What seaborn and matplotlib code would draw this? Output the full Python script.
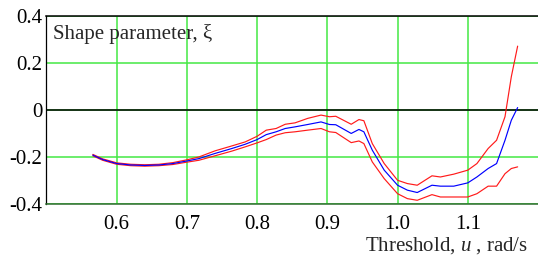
import pandas as pd
import matplotlib
matplotlib.use('Agg')
import matplotlib.pyplot as plt
import seaborn as sns

threshold = [0.566, 0.58, 0.60, 0.62, 0.64, 0.66, 0.68, 0.70, 0.717, 0.740,
             0.764, 0.783, 0.800, 0.813, 0.827, 0.840, 0.854, 0.872, 0.891, 0.903,
             0.912, 0.934, 0.945, 0.952, 0.964, 0.981, 1.000, 1.014, 1.028, 1.049,
             1.061, 1.080, 1.100, 1.113, 1.129, 1.141, 1.153, 1.162, 1.171]
xi = [-0.191, -0.210, -0.227, -0.233, -0.235, -0.233, -0.227, -0.216, -0.206, -0.184,
      -0.163, -0.145, -0.125, -0.104, -0.092, -0.078, -0.071, -0.061, -0.050, -0.061,
      -0.062, -0.099, -0.082, -0.092, -0.170, -0.255, -0.319, -0.340, -0.350, -0.319,
      -0.323, -0.323, -0.309, -0.284, -0.248, -0.227, -0.128, -0.043, 0.011]
xi_upper = [-0.188, -0.207, -0.224, -0.230, -0.232, -0.230, -0.223, -0.211, -0.199, -0.173,
            -0.152, -0.135, -0.111, -0.085, -0.078, -0.060, -0.054, -0.035, -0.021, -0.028,
            -0.026, -0.060, -0.040, -0.045, -0.142, -0.227, -0.298, -0.312, -0.319, -0.279,
            -0.284, -0.272, -0.255, -0.227, -0.163, -0.128, -0.028, 0.142, 0.272]
xi_lower = [-0.194, -0.213, -0.230, -0.236, -0.238, -0.236, -0.231, -0.221, -0.213, -0.194,
            -0.174, -0.156, -0.139, -0.125, -0.106, -0.096, -0.092, -0.085, -0.078, -0.092,
            -0.095, -0.138, -0.131, -0.142, -0.220, -0.291, -0.355, -0.376, -0.383, -0.359,
            -0.369, -0.369, -0.369, -0.355, -0.323, -0.323, -0.270, -0.248, -0.241]

x_ticks = [0.6, 0.7, 0.8, 0.9, 1.0, 1.1]
x_ticklabels = ['0.6', '0.7', '0.8', '0.9', '1.0', '1.1']
y_ticks = [-0.4, -0.2, 0.0, 0.2, 0.4]
y_ticklabels = ['-0.4', '-0.2', '0', '0.2', '0.4']

df = pd.DataFrame({'u': threshold * 3,
                   'xi': xi_lower + xi_upper + xi,
                   'curve': ['lower'] * len(threshold) + ['upper'] * len(threshold) + ['estimate'] * len(threshold)})

sns.set_style('white')
plt.rcParams['font.family'] = ['Liberation Serif', 'DejaVu Serif']
plt.rcParams['mathtext.fontset'] = 'custom'
plt.rcParams['mathtext.it'] = 'Liberation Serif:italic'
plt.rcParams['mathtext.rm'] = 'Liberation Serif'

fig = plt.figure(figsize=(5.38, 2.56), dpi=100)
ax = fig.add_axes([0.0864, 0.202, 0.9136, 0.7355])

grid_green = '#44e844'
ax.set_xlim(0.5, 1.2)
ax.set_ylim(-0.4, 0.4)
ax.set_xticks(x_ticks)
ax.set_xticklabels(x_ticklabels)
ax.set_yticks(y_ticks)
ax.set_yticklabels(y_ticklabels)
ax.grid(True, color=grid_green, lw=1.1)
ax.axhline(0, color='black', lw=1.1, zorder=1.5)

sns.lineplot(data=df, x='u', y='xi', hue='curve', units='curve', estimator=None,
             palette={'lower': '#ff1a1a', 'upper': '#ff1a1a', 'estimate': '#0000ff'},
             hue_order=['lower', 'upper', 'estimate'], sort=False,
             lw=0.85, legend=False, ax=ax, zorder=3)

ax.tick_params(length=0, labelsize=15, colors='black')
ax.tick_params(axis='x', pad=8)
ax.tick_params(axis='y', pad=3)
ax.set_xlabel('')
ax.set_ylabel('')

for side in ['left', 'top']:
    ax.spines[side].set_color('black')
ax.spines['left'].set_linewidth(0.9)
ax.spines['top'].set_linewidth(1.1)
ax.spines['bottom'].set_color('#2e6b2e')
ax.spines['bottom'].set_linewidth(1.1)
ax.spines['right'].set_visible(False)

ax.text(0.014, 0.905, 'Shape parameter, ξ', transform=ax.transAxes,
        fontsize=15, ha='left', va='center')
fig.text(0.982, 0.04, r'Threshold, $u$ , rad/s', fontsize=15, ha='right', va='center')

fig.savefig('out.png', dpi=100)
